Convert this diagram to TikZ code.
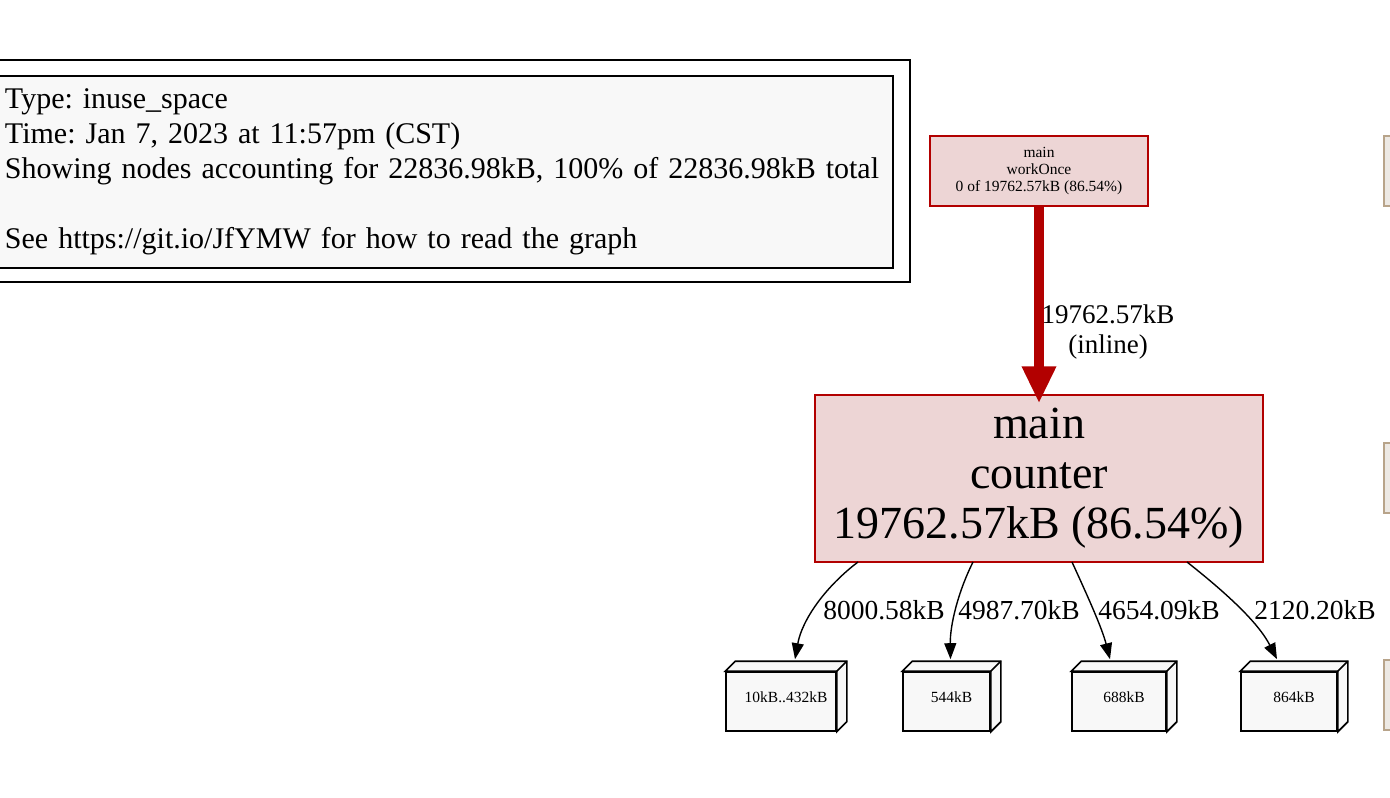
\documentclass[tikz,border=0pt]{standalone}
\usepackage{fontspec}
\setmainfont{Liberation Serif}
\usetikzlibrary{arrows.meta}
\definecolor{hotred}{HTML}{B20000}
\definecolor{hotfill}{HTML}{EDD5D5}
\definecolor{boxfill}{HTML}{F8F8F8}
\definecolor{tanline}{HTML}{B8A48A}
\definecolor{tanfill}{HTML}{EDE9E4}
\newcommand{\boxlab}[1]{\hspace*{10pt}\raisebox{8pt}{#1}}
\tikzset{
  fnode/.style={draw=hotred, fill=hotfill, line width=1.3pt, align=center, inner sep=0pt},
  cubebox/.style={draw=black, fill=boxfill, line width=1.6pt, minimum height=59pt, inner sep=0pt, font=\fontsize{15.5}{18}\selectfont},
  thinedge/.style={draw=black, line width=1.4pt, -{Triangle[length=16pt,width=12pt]}},
  elabel/.style={font=\fontsize{27.5}{30}\selectfont, inner sep=0pt},
  cutnode/.style={draw=tanline, fill=tanfill, line width=2pt, minimum width=20pt, minimum height=70pt}
}
\begin{document}
\frenchspacing
\begin{tikzpicture}[x=1pt,y=-1pt]
\useasboundingbox (0,0) rectangle (1390,798);
\fill[white] (0,0) rectangle (1390,798);
% legend
\node (frame) [draw=black, line width=1.3pt, minimum width=915pt, minimum height=222pt, inner sep=0pt] at (452.5,171) {};
\node (legend) [draw=black, fill=boxfill, line width=1.3pt, minimum width=898pt, minimum height=192pt, text width=878pt, inner sep=10pt, align=left, font=\fontsize{30}{35}\selectfont] at (444,172)
 {Type: inuse\_space\\ Time: Jan 7, 2023 at 11:57pm (CST)\\ Showing nodes accounting for 22836.98kB, 100\% of 22836.98kB total\\[35pt] See https://git.io/JfYMW for how to read the graph};
% cut-off nodes on right
\node (cutA) [cutnode, anchor=west] at (1383,171) {};
\node (cutB) [cutnode, anchor=west] at (1383,478) {};
\node (cutC) [cutnode, anchor=west] at (1383,695) {};
% workOnce
\node (work) [fnode, minimum width=218pt, minimum height=70pt, font=\fontsize{15.5}{17}\selectfont] at (1039,171)
 {main\\workOnce\\0 of 19762.57kB (86.54\%)};
% counter
\node (counter) [fnode, minimum width=448pt, minimum height=167pt, font=\fontsize{46}{50}\selectfont] at (1039,478.5)
 {\raisebox{-3pt}{\parbox{440pt}{\centering main\\counter\\19762.57kB (86.54\%)}}};
% thick edge
\draw[draw=hotred, line width=10pt, -{Triangle[length=37pt,width=32pt]}] (work.south) -- ([yshift=-9pt]counter.north);
\node (lab0) [elabel, align=center, font=\fontsize{27}{30}\selectfont] at (1108,332) {19762.57kB\\(inline)};
% boxes
\node (b1) [cubebox, minimum width=110pt] at (781,701.5) {\boxlab{10kB..432kB}};
\node (b2) [cubebox, minimum width=87pt] at (946.5,701.5) {\boxlab{544kB}};
\node (b3) [cubebox, minimum width=94pt] at (1119,701.5) {\boxlab{688kB}};
\node (b4) [cubebox, minimum width=96pt] at (1289,701.5) {\boxlab{864kB}};
\foreach \b in {b1,b2,b3,b4}{
  \draw[line width=1.6pt, fill=boxfill, line join=miter]
    (\b.north west) -- ++(10,-10) -| ([xshift=10pt,yshift=10pt]\b.south east) -- (\b.south east) -- (\b.north east) -- cycle;
  \draw[line width=1.6pt] (\b.north east) -- ++(10,-10);
}
% thin edges
\coordinate (s1) at (858,562);
\coordinate (s2) at (973,562);
\coordinate (s3) at (1072,562);
\coordinate (s4) at (1187,562);
\draw[thinedge] (s1) .. controls (825,587) and (802,620) .. ([xshift=14pt,yshift=12pt]b1.north);
\draw[thinedge] (s2) .. controls (958,592) and (950,625) .. ([xshift=4pt,yshift=12pt]b2.north);
\draw[thinedge] (s3) .. controls (1088,597) and (1102,628) .. ([xshift=-9pt,yshift=12pt]b3.north);
\draw[thinedge] (s4) .. controls (1225,592) and (1258,622) .. ([xshift=-12pt,yshift=12pt]b4.north);
\node (l1) [elabel] at (884,610) {8000.58kB};
\node (l2) [elabel] at (1019,610) {4987.70kB};
\node (l3) [elabel] at (1159,610) {4654.09kB};
\node (l4) [elabel] at (1315,610) {2120.20kB};
\end{tikzpicture}
\end{document}
